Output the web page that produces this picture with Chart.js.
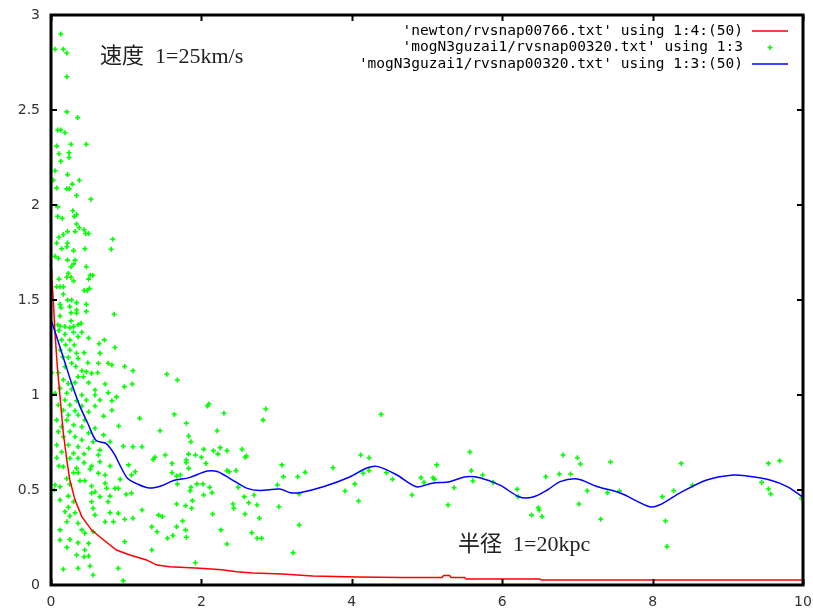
<!DOCTYPE html>
<html>
<head>
<meta charset="utf-8">
<script src="https://cdn.jsdelivr.net/npm/chart.js@4.4.1/dist/chart.umd.min.js"></script>
<style>
  html, body { margin: 0; padding: 0; background: #fff; }
  canvas { display: block; }
</style>
</head>
<body>
<canvas id="chart" width="813" height="612"></canvas>
<script>
// ---- data ----
const legendLabels = [
    "'newton/rvsnap00766.txt' using 1:4:(50)",
    "'mogN3guzai1/rvsnap00320.txt' using 1:3",
    "'mogN3guzai1/rvsnap00320.txt' using 1:3:(50)"
];
const speedNote = '速度  1=25km/s';
const radiusNote = '半径  1=20kpc';
const xTicks = [0, 2, 4, 6, 8, 10];
const yTicks = [0, 0.5, 1, 1.5, 2, 2.5, 3];

// newton smoothed curve (red)
const newtonX = [0.005, 0.01, 0.03, 0.053, 0.084, 0.12, 0.164, 0.21, 0.25, 0.32, 0.41, 0.54, 0.70, 0.87, 1.05, 1.27, 1.41, 1.58, 1.98, 2.27, 2.47, 2.68, 3.08, 3.48, 4.07, 4.67, 5.2, 5.22, 5.3, 5.32, 5.5, 5.52, 6.5, 6.52, 10];
const newtonY = [1.66, 1.62, 1.5, 1.326, 1.149, 0.99, 0.8, 0.658, 0.553, 0.447, 0.36, 0.289, 0.237, 0.184, 0.158, 0.132, 0.105, 0.096, 0.088, 0.08, 0.07, 0.063, 0.058, 0.047, 0.042, 0.04, 0.04, 0.05, 0.05, 0.04, 0.04, 0.032, 0.032, 0.026, 0.026];

// MOG smoothed curve (blue)
const mogLineX = [0.01, 0.075, 0.186, 0.275, 0.385, 0.49, 0.6, 0.73, 0.84, 0.93, 1.02, 1.13, 1.31, 1.49, 1.63, 1.84, 2.0, 2.08, 2.21, 2.37, 2.6, 2.78, 3.04, 3.18, 3.31, 3.62, 3.98, 4.2, 4.35, 4.6, 4.86, 5.07, 5.3, 5.52, 5.7, 5.97, 6.23, 6.41, 6.6, 6.77, 7.0, 7.26, 7.57, 7.96, 8.09, 8.36, 8.72, 9.07, 9.25, 9.56, 9.79, 9.99];
const mogLineY = [1.386, 1.307, 1.17, 1.06, 0.94, 0.85, 0.76, 0.745, 0.69, 0.62, 0.56, 0.535, 0.51, 0.525, 0.55, 0.565, 0.59, 0.6, 0.597, 0.563, 0.51, 0.497, 0.505, 0.486, 0.486, 0.517, 0.57, 0.616, 0.623, 0.579, 0.517, 0.536, 0.544, 0.57, 0.565, 0.526, 0.463, 0.463, 0.5, 0.544, 0.558, 0.518, 0.484, 0.412, 0.421, 0.484, 0.553, 0.579, 0.574, 0.553, 0.518, 0.465];

// MOG raw points (green)
const mogPtsX = [
    0.13, 0.053, 0.164, 0.21, 0.21, 0.21, 0.355, 0.089, 0.13, 0.186, 0.076, 0.266, 0.47, 0.106, 0.24, 0.24, 0.13, 0.053, 0.22, 0.03, 0.376, 0.283, 0.076, 0.21, 0.243, 0.34, 0.53,
    0.089, 0.29, 0.089, 0.15, 0.31, 0.34, 0.34, 0.376, 0.44, 0.32, 0.22, 0.164, 0.46, 0.50, 0.82, 0.106, 0.076, 0.22, 0.21, 0.142, 0.45, 0.30, 0.80, 0.053, 0.097, 0.22, 0.32, 0.30, 0.266, 0.47,
    0.23, 0.21, 0.266, 0.106, 0.30, 0.52, 0.555, 0.50, 0.076, 0.12, 0.164, 0.44, 0.48, 0.51, 0.164, 0.22, 0.275, 0.34, 0.12, 0.133, 0.25, 0.47, 0.34, 0.47, 0.12, 0.266, 0.34, 0.84,
    0.266, 0.40, 0.36, 0.089, 0.12, 0.186, 0.25, 0.30,
    0.106, 0.186, 0.30, 0.41, 0.36, 0.50, 0.142, 0.25, 0.64, 0.71, 0.85, 0.195, 0.31, 0.12, 0.25, 0.34, 0.44, 0.65, 0.155, 0.23, 0.36, 0.49, 0.63, 0.76, 0.81, 0.98, 0.275, 0.33, 0.186,
    0.01, 0.097, 0.41, 0.47, 0.54, 0.62, 1.09, 0.36, 0.43, 0.164, 0.23, 0.32, 0.50, 0.72, 0.975, 1.08, 0.12, 0.275, 0.585, 0.76, 0.053, 0.21, 0.41, 0.585, 0.87, 0.186, 0.34, 0.47, 0.65, 0.81,
    0.097, 0.25, 0.41, 0.585, 0.164, 0.32, 0.50, 0.81, 0.23, 0.36, 0.70, 0.076, 0.21, 0.45, 1.18, 0.90, 0.30, 0.142, 0.41, 0.585, 0.097, 0.25, 0.50, 0.70, 0.164, 0.32, 0.41, 0.56, 0.785,
    0.96, 1.09, 1.21, 0.076, 0.23, 0.36, 0.50, 0.65, 0.142, 0.30, 0.44, 0.63, 0.076, 0.25, 0.36,
    0.106, 0.164, 0.34, 0.44, 0.54, 0.65, 0.785, 1.03, 0.52, 0.30, 0.36, 0.63, 0.72, 1.07, 1.12, 0.21, 0.386, 0.45, 0.72, 0.92, 0.053, 0.12, 0.25, 0.54, 0.044, 0.74, 0.85, 0.895, 0.585,
    1.0, 1.07, 0.54, 0.23, 0.65, 0.785, 0.12, 0.30, 0.54, 0.76, 1.21, 0.23, 0.56, 0.186, 0.32, 0.785, 0.895, 0.25, 0.585, 0.72, 0.83, 0.98, 0.21, 0.36, 1.09, 0.12, 0.41, 0.56, 0.45, 0.25,
    0.36, 0.50, 0.12, 0.98, 0.21, 0.45, 0.34, 0.44, 0.50, 0.52, 0.164, 0.36, 0.56, 0.895, 0.96,
    1.54, 1.68, 2.08, 2.10, 1.64, 2.30, 2.855, 2.82, 1.80, 1.45, 2.21, 1.83, 1.86, 2.03, 2.16, 2.25, 2.34, 2.22, 2.54, 2.58, 2.60, 1.36, 1.38, 1.52, 1.83, 1.92, 2.00, 1.80, 1.80, 2.06, 1.61,
    1.83, 1.61, 1.67, 1.72, 2.34, 2.37, 2.46, 1.68, 1.94, 2.02, 1.86, 1.85, 2.11, 2.14, 2.03, 2.49, 2.57, 2.70, 2.63, 2.74, 2.42, 2.43, 2.58, 2.15, 1.88, 1.87, 1.67, 1.79, 2.77, 1.43, 1.48,
    1.75, 1.67, 1.34, 1.41, 1.79, 2.26, 1.55, 1.62, 1.80, 2.67, 2.74, 2.80, 2.34, 1.34, 1.92,
    3.07, 3.09, 3.01, 3.03, 3.28, 3.38, 3.30, 3.30, 3.22, 3.75, 3.91, 4.04, 4.09, 4.12, 4.23, 4.15, 4.23, 4.39, 4.46, 4.54, 4.80, 4.92, 4.96, 5.08, 5.10, 5.13, 5.28, 5.36, 5.57, 5.59, 5.61,
    5.74, 5.88, 6.20, 6.21, 6.39, 6.48, 6.49, 6.53, 6.58, 6.76, 6.81, 6.91, 7.00, 7.04, 7.02, 7.13, 7.31, 7.40, 7.44, 7.56, 8.13, 8.17, 8.19, 8.28, 8.38, 8.53, 9.45, 9.54, 9.54, 9.57, 9.69, 9.98
];
const mogPtsY = [
    2.90, 2.82, 2.82, 2.80, 2.675, 2.49, 2.46, 2.395, 2.395, 2.38, 2.31, 2.32, 2.32, 2.27, 2.275, 2.25, 2.23, 2.18, 2.16, 2.13, 2.13, 2.11, 2.09, 2.085, 2.085, 2.05, 2.03,
    1.99, 1.97, 1.94, 1.93, 1.94, 1.95, 1.90, 1.88, 1.87, 1.86, 1.86, 1.845, 1.85, 1.85, 1.82, 1.83, 1.80, 1.80, 1.78, 1.77, 1.77, 1.76, 1.767, 1.73, 1.72, 1.71, 1.71, 1.69, 1.675, 1.675,
    1.64, 1.62, 1.62, 1.61, 1.60, 1.63, 1.63, 1.61, 1.57, 1.57, 1.57, 1.55, 1.55, 1.56, 1.53, 1.50, 1.50, 1.486, 1.477, 1.46, 1.465, 1.477, 1.447, 1.44, 1.416, 1.433, 1.43, 1.425,
    1.39, 1.377, 1.37, 1.37, 1.363, 1.36, 1.354, 1.36,
    1.34, 1.32, 1.33, 1.33, 1.307, 1.30, 1.29, 1.29, 1.27, 1.29, 1.25, 1.263, 1.263, 1.237, 1.237, 1.22, 1.223, 1.22, 1.20, 1.198, 1.193, 1.17, 1.167, 1.167, 1.158, 1.15, 1.167, 1.15, 1.149,
    1.117, 1.117, 1.128, 1.123, 1.114, 1.117, 1.128, 1.096, 1.096, 1.08, 1.06, 1.065, 1.065, 1.058, 1.044, 1.058, 1.035, 1.03, 1.026, 1.012, 1.009, 1.009, 1.0, 1.0, 0.99, 0.974, 0.97, 0.974, 0.974, 0.97,
    0.947, 0.947, 0.942, 0.942, 0.92, 0.917, 0.912, 0.92, 0.895, 0.895, 0.889, 0.868, 0.868, 0.868, 0.877, 0.837, 0.842, 0.833, 0.833, 0.825, 0.807, 0.807, 0.80, 0.79, 0.78, 0.78, 0.763, 0.754, 0.754,
    0.73, 0.728, 0.728, 0.737, 0.737, 0.728, 0.72, 0.71, 0.70, 0.693, 0.69, 0.684, 0.67, 0.667, 0.667,
    0.626, 0.623, 0.614, 0.644, 0.626, 0.649, 0.626, 0.632, 0.609, 0.591, 0.591, 0.588, 0.579, 0.579, 0.596, 0.56, 0.549, 0.549, 0.535, 0.556, 0.526, 0.517, 0.53, 0.521, 0.50, 0.509, 0.509, 0.509, 0.491,
    0.477, 0.483, 0.483, 0.468, 0.465, 0.468, 0.447, 0.438, 0.438, 0.438, 0.395, 0.409, 0.404, 0.386, 0.38, 0.38, 0.377, 0.363, 0.368, 0.333, 0.333, 0.346, 0.333, 0.325, 0.351, 0.29, 0.29, 0.28, 0.272, 0.24,
    0.223, 0.219, 0.237, 0.228, 0.198, 0.184, 0.158, 0.149, 0.153, 0.10, 0.083, 0.088, 0.053, 0.088, 0.023,
    1.109, 1.079, 0.942, 0.953, 0.898, 0.904, 0.926, 0.868, 0.851, 0.812, 0.812, 0.784, 0.754, 0.714, 0.707, 0.723, 0.707, 0.689, 0.714, 0.672, 0.679, 0.661, 0.672, 0.684, 0.689, 0.684, 0.672, 0.658, 0.644, 0.64, 0.64,
    0.614, 0.591, 0.574, 0.579, 0.602, 0.596, 0.602, 0.532, 0.532, 0.532, 0.514, 0.496, 0.514, 0.486, 0.474, 0.514, 0.465, 0.474, 0.433, 0.421, 0.426, 0.404, 0.374, 0.374, 0.444, 0.404, 0.426, 0.417, 0.351, 0.368, 0.36,
    0.337, 0.307, 0.307, 0.28, 0.29, 0.29, 0.246, 0.26, 0.251, 0.275, 0.246, 0.246, 0.216, 0.184, 0.117,
    0.632, 0.57, 0.526, 0.412, 0.57, 0.593, 0.479, 0.316, 0.17, 0.617, 0.495, 0.532, 0.442, 0.684, 0.67, 0.588, 0.602, 0.898, 0.591, 0.556, 0.474, 0.565, 0.54, 0.565, 0.556, 0.632, 0.421, 0.512, 0.70, 0.602, 0.547,
    0.579, 0.54, 0.504, 0.465, 0.368, 0.407, 0.395, 0.36, 0.57, 0.584, 0.684, 0.584, 0.67, 0.637, 0.426, 0.496, 0.346, 0.486, 0.647, 0.495, 0.465, 0.337, 0.202, 0.496, 0.64, 0.525, 0.54, 0.64, 0.505, 0.479, 0.654, 0.456
];

const RED = '#ff0000';
const GREEN = '#00ff00';
const BLUE = '#0000ff';

function toPoints(xs, ys) {
    return xs.map((x, i) => ({ x: x, y: ys[i] }));
}

//********************************************************************************
/// gnuplot-like frame, inward ticks, key and notes
//********************************************************************************
const framePlugin = {
    id: 'frame',
    afterDatasetsDraw(chart) {
        const ctx = chart.ctx;
        const a = chart.chartArea;
        const xs = chart.scales.x;
        const ys = chart.scales.y;
        const tick = 6;

        ctx.save();
        ctx.strokeStyle = '#000';
        ctx.lineWidth = 2;
        ctx.beginPath();
        xTicks.forEach(v => {
            const px = Math.round(xs.getPixelForValue(v)) + 0.5;
            ctx.moveTo(px, a.bottom); ctx.lineTo(px, a.bottom - tick);
            ctx.moveTo(px, a.top); ctx.lineTo(px, a.top + tick);
        });
        yTicks.forEach(v => {
            const py = Math.round(ys.getPixelForValue(v));
            ctx.moveTo(a.left, py); ctx.lineTo(a.left + tick, py);
            ctx.moveTo(a.right, py); ctx.lineTo(a.right - tick, py);
        });
        ctx.stroke();

        ctx.lineWidth = 3;
        ctx.strokeRect(a.left, a.top, a.right - a.left, a.bottom - a.top);

        // key, top right
        ctx.font = '14.5px "DejaVu Sans Mono", monospace';
        ctx.fillStyle = '#000';
        ctx.textAlign = 'right';
        ctx.textBaseline = 'middle';
        const rows = [31, 47.5, 64];
        const styles = [RED, GREEN, BLUE];
        legendLabels.forEach((label, i) => {
            ctx.fillText(label, 743, rows[i]);
            if (i === 1) {
                ctx.strokeStyle = GREEN;
                ctx.lineWidth = 1.5;
                ctx.beginPath();
                ctx.moveTo(767.5, rows[i]); ctx.lineTo(772.5, rows[i]);
                ctx.moveTo(770, rows[i] - 2.5); ctx.lineTo(770, rows[i] + 2.5);
                ctx.stroke();
            } else {
                ctx.strokeStyle = styles[i];
                ctx.lineWidth = 1.5;
                ctx.beginPath();
                ctx.moveTo(752, rows[i]); ctx.lineTo(788, rows[i]);
                ctx.stroke();
            }
        });

        // notes
        ctx.font = '22px "Liberation Serif", "Noto Sans CJK JP", serif';
        ctx.fillStyle = '#222';
        ctx.textAlign = 'left';
        ctx.fillText(speedNote, 100, 57);
        ctx.fillText(radiusNote, 458, 545);
        ctx.restore();
    }
};

const chart = new Chart(document.getElementById('chart'), {
    type: 'scatter',
    data: {
        datasets: [{
            label: legendLabels[0],
            data: toPoints(newtonX, newtonY),
            showLine: true,
            borderColor: RED,
            borderWidth: 1.5,
            pointRadius: 0,
            tension: 0,
            order: 2
        }, {
            label: legendLabels[1],
            data: toPoints(mogPtsX, mogPtsY),
            pointStyle: 'cross',
            pointRadius: 2.5,
            pointBorderWidth: 1.6,
            borderColor: GREEN,
            backgroundColor: GREEN,
            order: 3
        }, {
            label: legendLabels[2],
            data: toPoints(mogLineX, mogLineY),
            showLine: true,
            borderColor: BLUE,
            borderWidth: 1.5,
            pointRadius: 0,
            tension: 0.3,
            order: 1
        }]
    },
    options: {
        responsive: false,
        animation: false,
        layout: { padding: { top: 15, right: 10, left: 0, bottom: 0 } },
        plugins: {
            legend: { display: false },
            tooltip: { enabled: false }
        },
        scales: {
            x: {
                type: 'linear',
                min: 0,
                max: 10,
                afterBuildTicks: s => { s.ticks = xTicks.map(v => ({ value: v })); },
                afterFit: s => { s.height = 27; s.paddingLeft = 0; s.paddingRight = 0; },
                grid: { display: false, drawTicks: false },
                border: { display: false },
                ticks: {
                    padding: 9,
                    color: '#333',
                    font: { family: 'DejaVu Sans', size: 14 },
                    maxRotation: 0,
                    callback: v => String(v)
                }
            },
            y: {
                type: 'linear',
                min: 0,
                max: 3,
                afterBuildTicks: s => { s.ticks = yTicks.map(v => ({ value: v })); },
                afterFit: s => { s.width = 51; s.paddingTop = 0; s.paddingBottom = 0; },
                grid: { display: false, drawTicks: false },
                border: { display: false },
                ticks: {
                    padding: 11,
                    color: '#333',
                    font: { family: 'DejaVu Sans', size: 14 },
                    callback: v => String(v)
                }
            }
        }
    },
    plugins: [framePlugin]
});
</script>
</body>
</html>
